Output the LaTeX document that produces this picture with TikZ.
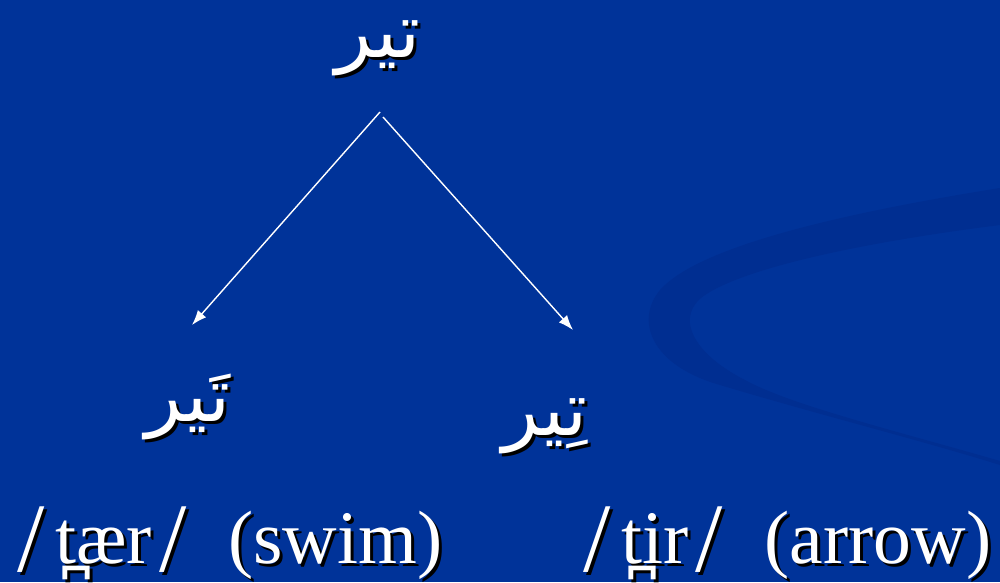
\documentclass[tikz,border=0pt]{standalone}
\usepackage{fontspec}
\usepackage{xcolor}
\usepackage{tikz}
\usetikzlibrary{arrows.meta,positioning,calc}
\setmainfont{Liberation Serif}
\newfontfamily\arabicfont[Script=Arabic]{DejaVu Sans}
\TeXXeTstate=1
\definecolor{slideblue}{RGB}{0,51,153}
\definecolor{swooshblue}{RGB}{0,46,145}
\tikzset{
    word/.style={text=white, inner sep=0pt, font=\arabicfont\fontsize{43}{50}\selectfont},
    ipa/.style={text=white, inner sep=0pt, font=\fontsize{43}{52}\selectfont},
    line/.style={draw=white, line width=0.8pt, -{Latex[length=0.3cm,width=0.22cm]}}
}
% tall slash of the transcriptions
\newcommand{\ipaslash}{\raisebox{-0.11em}{\scalebox{1.3}{/}}}
% text with a black drop shadow, then the white named node on top
\newcommand{\shadowed}[4]{%
    \node[#1, text=black] at ([shift={(3,3)}]#3) {#4};
    \node[#1] (#2) at (#3) {#4};}

\begin{document}
\begin{tikzpicture}[x=0.02cm, y=-0.02cm]
    % Background and swoosh
    \fill[slideblue] (0,0) rectangle (1000,582);
    \useasboundingbox (0,0) rectangle (1000,582);
    \fill[swooshblue] (1000,188) .. controls (850,212) and (700,245) .. (660,290)
        .. controls (635,320) and (650,365) .. (720,385)
        .. controls (820,415) and (920,440) .. (1000,465)
        -- (1000,461) .. controls (900,432) and (790,405) .. (745,380)
        .. controls (690,352) and (675,315) .. (705,295)
        .. controls (750,265) and (880,240) .. (1000,225) -- cycle;

    % Root word
    \shadowed{word}{root}{378,48}{\beginR تیر\endR}

    % Two readings
    \shadowed{word}{swim}{188,407}{\beginR تَیر\endR}
    \shadowed{word}{arrow}{545,426}{\beginR تِیر\endR}

    % Connections
    \path [line] ([shift={(2,64)}]root.center) -- ([shift={(4,-82)}]swim.center);
    \path [line] ([shift={(5,69)}]root.center) -- ([shift={(28,-96)}]arrow.center);

    % Transcriptions
    \shadowed{ipa, anchor=base west}{swimipa}{17,563}{\ipaslash\hspace{0.14em}t̪ær\hspace{0.1em}\ipaslash\hspace{0.55em}(swim)}
    \shadowed{ipa, anchor=base west}{arrowipa}{583,563}{\ipaslash\hspace{0.14em}t̪ir\hspace{0.1em}\ipaslash\hspace{0.55em}(arrow)}
\end{tikzpicture}
\end{document}
